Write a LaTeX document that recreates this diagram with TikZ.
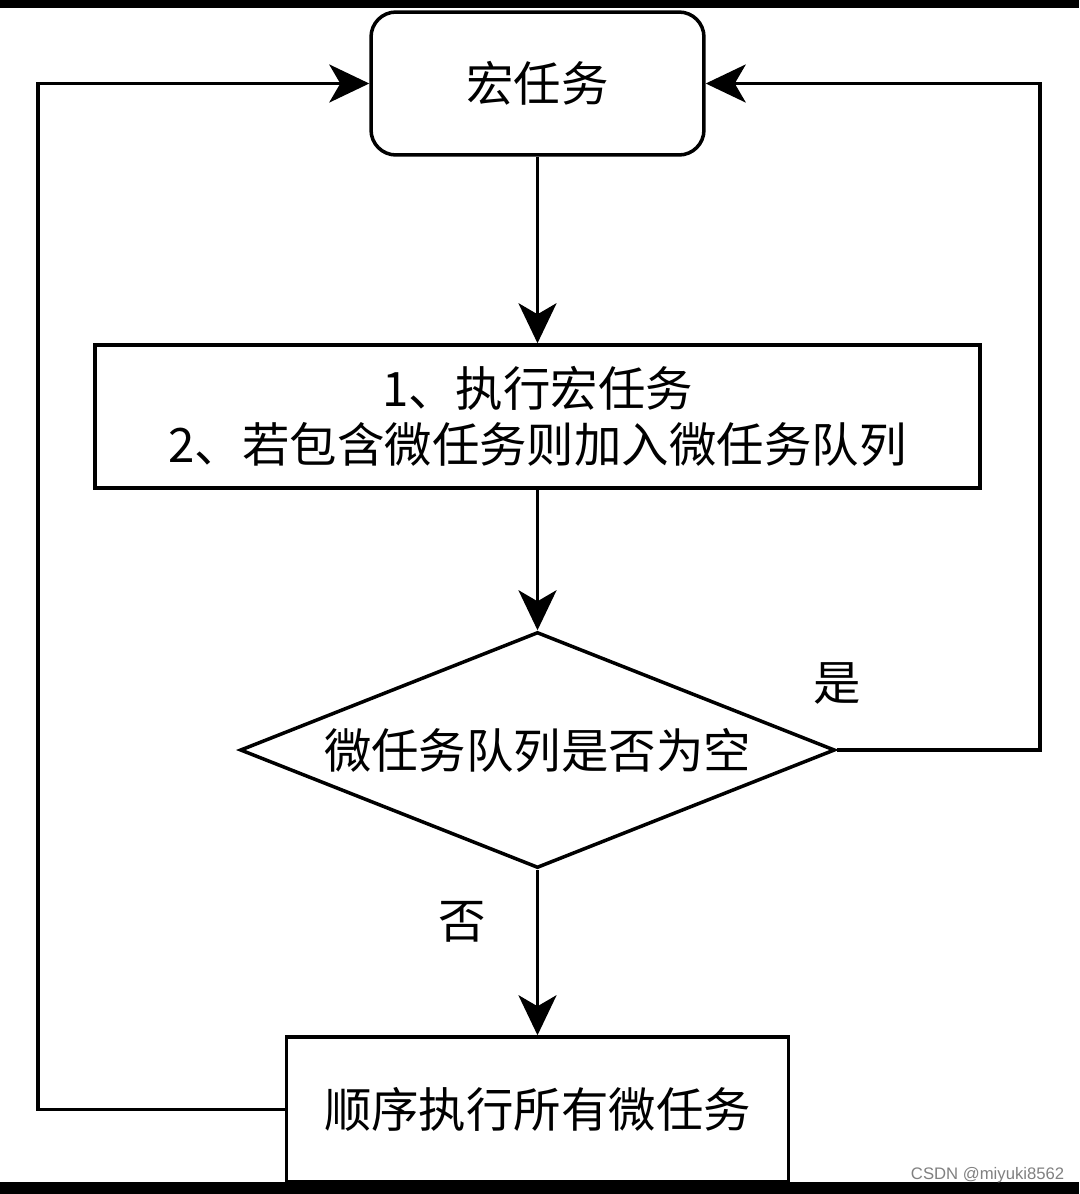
\documentclass[tikz,border=0pt]{standalone}
\usepackage{fontspec}
\setmainfont{Liberation Sans}
\newfontfamily\cjk{Noto Sans CJK SC}
\usetikzlibrary{shapes.geometric,arrows.meta}
\begin{document}
\begin{tikzpicture}[x=0.02cm,y=-0.02cm,line width=2pt,
  flow/.style={-{Stealth[length=0.8cm,width=0.76cm,inset=0.22cm]}},
  txt/.style={font=\cjk\fontsize{27}{32}\selectfont,align=center,inner sep=0pt},
  stepbox/.style={draw,txt,minimum height=2.86cm}]
\useasboundingbox (0,0) rectangle (1079,1194);
\node[stepbox,rounded corners=0.5cm,minimum width=6.66cm] (macro) at (537.5,83.5) {宏任务};
\node[stepbox,minimum width=17.7cm] (run) at (537.5,416.5) {1、执行宏任务\\2、若包含微任务则加入微任务队列};
\node[draw,diamond,txt,aspect=2.52,minimum width=11.9cm,minimum height=4.72cm] (empty) at (537.5,750) {微任务队列是否为空};
\node[stepbox,minimum width=10.04cm,minimum height=2.9cm] (micro) at (537.5,1109.5) {顺序执行所有微任务};
\node[txt] (yes) at (837,683) {是};
\node[txt] (no) at (462,922) {否};
\coordinate (yesturn) at (1040,750);
\coordinate (noturn) at (38,1109.5);
\draw[flow] (macro) -- (run);
\draw[flow] (run) -- (empty);
\draw[flow] (empty) -- (micro);
\draw[flow] (empty.east) -- (yesturn) |- (macro.east);
\draw[flow] (micro.west) -- (noturn) |- (macro.west);
% black bands
\fill (0,0) rectangle (1079,8);
\fill (0,1182) rectangle (1079,1194);
\node[font=\fontsize{9.5}{10}\selectfont,text=gray,anchor=east,inner sep=0pt] (mark) at (1066,1175) {CSDN @miyuki8562};
\end{tikzpicture}
\end{document}
